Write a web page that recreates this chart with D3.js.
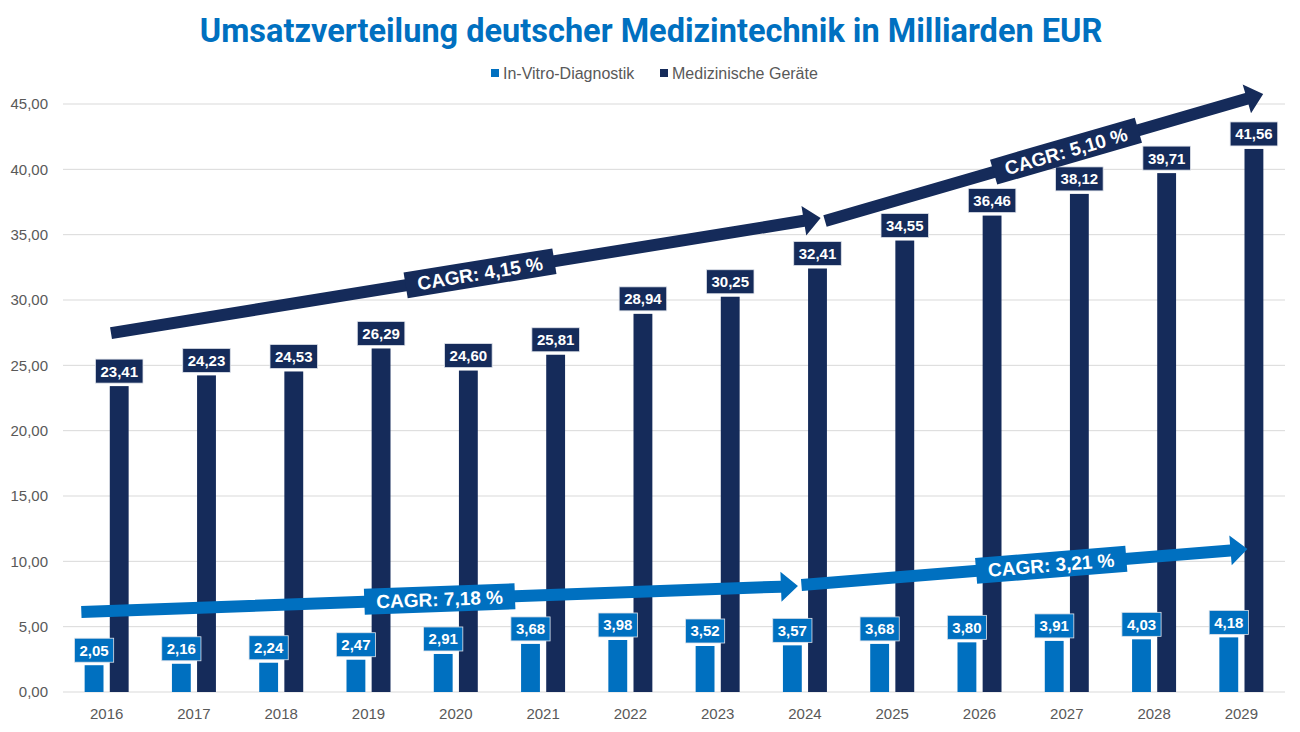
<!DOCTYPE html>
<meta charset="utf-8">
<style>
body{ margin:0; background:#fff; }
text{ font-family:"Liberation Sans", Arial, sans-serif; }
.tick text{ fill:#595959; font-size:15px; }
.grid line{ stroke:#d9d9d9; stroke-width:1px; }
.lbl{ fill:#fff; font-weight:bold; font-size:15px; text-anchor:middle; }
.cagr{ fill:#fff; font-weight:bold; font-size:19px; text-anchor:middle; }
.legend text{ fill:#595959; font-size:16px; }
</style>
<body>
<script src="https://cdn.jsdelivr.net/npm/d3@7"></script>
<script>

// data
var years = ["2016","2017","2018","2019","2020","2021","2022","2023","2024","2025","2026","2027","2028","2029"];
var seriesNames = ["In-Vitro-Diagnostik","Medizinische Geräte"];
var ivd = [2.05,2.16,2.24,2.47,2.91,3.68,3.98,3.52,3.57,3.68,3.80,3.91,4.03,4.18];
var geraete = [23.41,24.23,24.53,26.29,24.60,25.81,28.94,30.25,32.41,34.55,36.46,38.12,39.71,41.56];
var colors = ["#0070C0","#152B5A"];
var yTicks = [0,5,10,15,20,25,30,35,40,45];

// CAGR arrows: start / end as (year, value), which series colour, label position along arrow
var cagrLabels = ["CAGR: 4,15 %","CAGR: 5,10 %","CAGR: 7,18 %","CAGR: 3,21 %"];
var cagrFrom = [[2016.05,27.47],[2024.23,36.05],[2015.71,6.12],[2023.96,8.19]];
var cagrTo   = [[2024.18,36.27],[2029.25,45.76],[2023.92,8.11],[2029.07,10.94]];
var cagrSeries = [1,1,0,0];
var cagrPos = [0.52,0.55,0.50,0.56];

var W = 1300, H = 732;
var svg = d3.select("body").append("svg").attr("width", W).attr("height", H);

var x = d3.scaleBand().domain(years).range([63,1285]).padding(0);
var x1 = d3.scaleBand().domain(seriesNames).range([-22,22]).paddingInner(0.25);
var y = d3.scaleLinear().domain([0,45]).range([692,104]);

// year (fractional) -> px
var step = x.step();
function xYear(yr){ return x(years[0]) + x.bandwidth()/2 + (yr - (+years[0]))*step; }

// title
svg.append("text").attr("x",651).attr("y",42)
	.attr("text-anchor","middle")
	.style("font-family","Roboto, sans-serif")
	.style("font-weight","bold").style("font-size","32.5px")
	.style("fill","#0070C0")
	.text("Umsatzverteilung deutscher Medizintechnik in Milliarden EUR");

// legend
var leg = svg.append("g").attr("class","legend");
var legX = [491,660];
seriesNames.forEach(function(s,i){
	leg.append("rect").attr("x",legX[i]).attr("y",69).attr("width",8).attr("height",8).attr("fill",colors[i]);
	leg.append("text").attr("x",legX[i]+12).attr("y",73).attr("dy","0.35em").text(s);
});

// grid
svg.append("g").attr("class","grid")
	.selectAll("line").data(yTicks).join("line")
	.attr("x1",63).attr("x2",1285)
	.attr("y1",d=>y(d)).attr("y2",d=>y(d));

// y axis
var fmt = d3.format(".2f");
svg.append("g").attr("transform","translate(56,0)")
	.call(d3.axisLeft(y).tickValues(yTicks).tickSize(0).tickPadding(8).tickFormat(d=>fmt(d).replace(".",",")))
	.call(g=>g.select(".domain").remove());

// x axis
svg.append("g").attr("transform","translate(0,692)")
	.call(d3.axisBottom(x).tickSize(0).tickPadding(16))
	.call(g=>g.select(".domain").remove());

// bars
var rows = years.map((yr,i)=>({year:yr, vals:[ivd[i],geraete[i]]}));
var grp = svg.selectAll(".yr").data(rows).join("g")
	.attr("transform",d=>"translate("+(x(d.year)+x.bandwidth()/2)+",0)");

grp.selectAll("rect.bar").data(d=>d.vals.map((v,i)=>({s:seriesNames[i], v:v, i:i}))).join("rect")
	.attr("class","bar")
	.attr("x",d=>x1(d.s)).attr("width",x1.bandwidth())
	.attr("y",d=>y(d.v)).attr("height",d=>y(0)-y(d.v))
	.attr("fill",d=>colors[d.i]);

// data labels
var lab = grp.selectAll("g.lab").data(d=>d.vals.map((v,i)=>({s:seriesNames[i], v:v, i:i}))).join("g")
	.attr("class","lab")
	.attr("transform",d=>"translate("+(x1(d.s)+x1.bandwidth()/2)+","+(y(d.v)-15)+")");
lab.append("rect").attr("fill",d=>colors[d.i]).attr("stroke","#dfe3ea").attr("stroke-width",0.8);
lab.append("text").attr("class","lbl").attr("dy","0.36em")
	.text(d=>fmt(d.v).replace(".",","));
lab.each(function(){
	var g = d3.select(this);
	var w = g.select("text").node().getComputedTextLength() + 10;
	g.select("rect").attr("x",-w/2).attr("y",-12).attr("width",w).attr("height",24);
});

// CAGR arrows
var th = 12, hl = 17, hw = 30;
cagrLabels.forEach(function(t,i){
	var x0 = xYear(cagrFrom[i][0]), y0 = y(cagrFrom[i][1]);
	var xe = xYear(cagrTo[i][0]), ye = y(cagrTo[i][1]);
	var L = Math.hypot(xe-x0, ye-y0);
	var ang = Math.atan2(ye-y0, xe-x0)*180/Math.PI;
	var col = colors[cagrSeries[i]];
	var a = svg.append("g").attr("transform","translate("+x0+","+y0+") rotate("+ang+")");
	a.append("path").attr("fill",col)
		.attr("d","M0,"+(-th/2)+"L"+(L-hl)+","+(-th/2)+"L"+(L-hl)+","+(-hw/2)+"L"+L+",0L"+(L-hl)+","+(hw/2)+"L"+(L-hl)+","+(th/2)+"L0,"+(th/2)+"Z");
	var c = a.append("g").attr("transform","translate("+(L*cagrPos[i])+",0)");
	var r = c.append("rect").attr("fill",col);
	var tx = c.append("text").attr("class","cagr").attr("dy","0.36em").text(t);
	var w = tx.node().getComputedTextLength() + 24;
	r.attr("x",-w/2).attr("y",-13).attr("width",w).attr("height",26);
});

</script>
</body>
</html>
